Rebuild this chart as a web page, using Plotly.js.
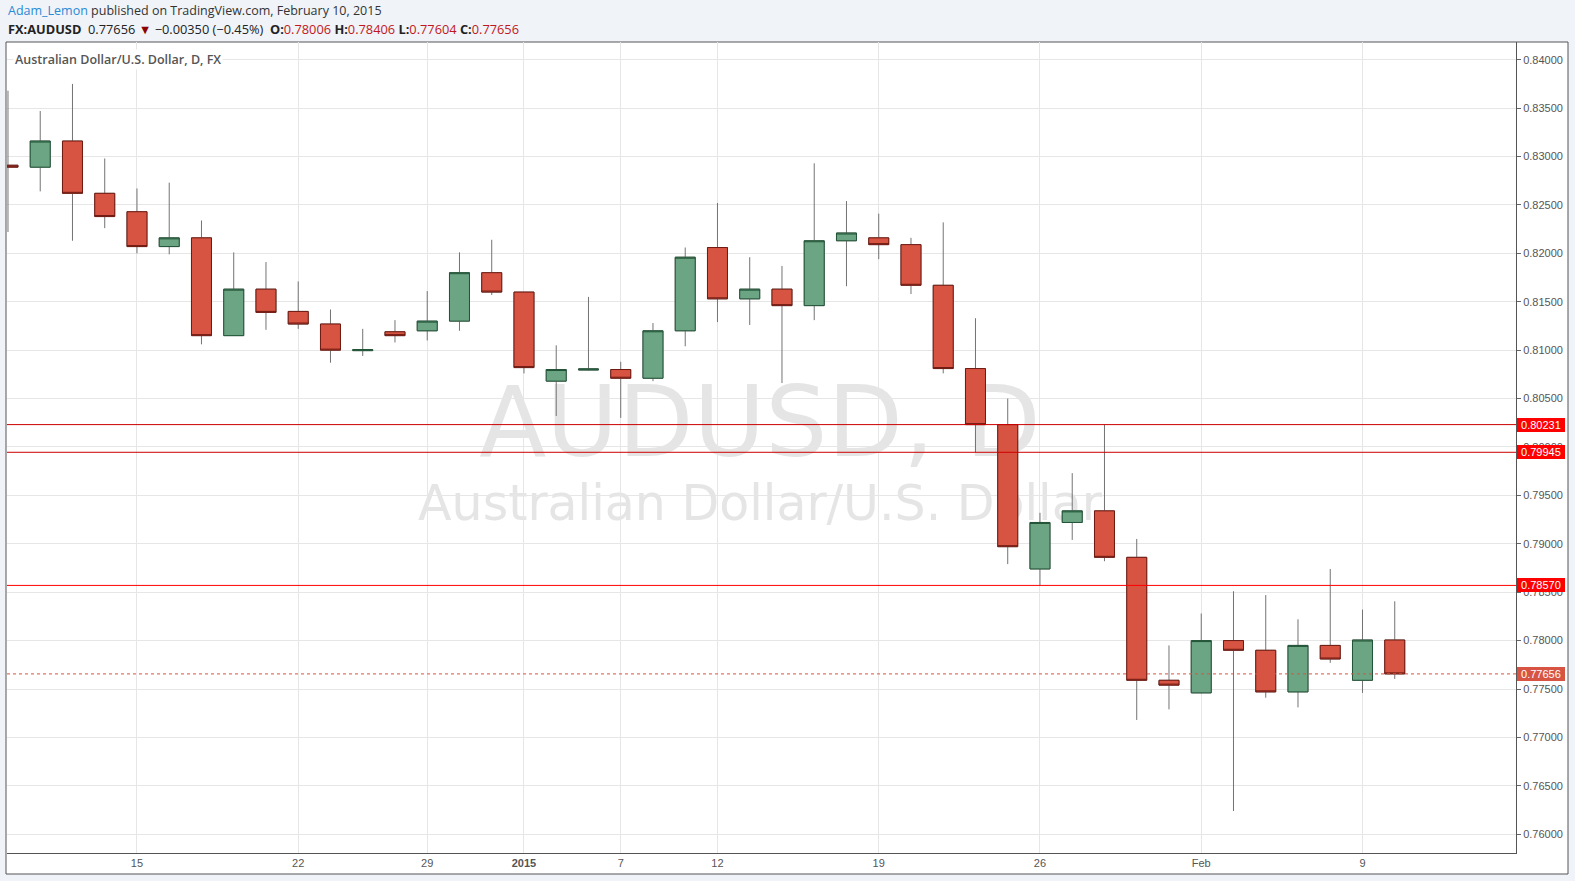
<!DOCTYPE html>
<html>
<head>
<meta charset="utf-8">
<script src="https://cdn.plot.ly/plotly-3.0.1.min.js"></script>
<style>
html,body{margin:0;padding:0;background:#f0f3f8;}
#chart{width:1575px;height:881px;}
</style>
</head>
<body>
<div id="chart"></div>
<script>
// ---- data ----
const dates = [
  '2014-12-09','2014-12-10','2014-12-11','2014-12-12','2014-12-15','2014-12-16','2014-12-17','2014-12-18','2014-12-19',
  '2014-12-22','2014-12-23','2014-12-24','2014-12-26','2014-12-29','2014-12-30','2014-12-31','2015-01-02',
  '2015-01-05','2015-01-06','2015-01-07','2015-01-08','2015-01-09','2015-01-12','2015-01-13','2015-01-14',
  '2015-01-15','2015-01-16','2015-01-19','2015-01-20','2015-01-21','2015-01-22','2015-01-23','2015-01-26',
  '2015-01-27','2015-01-28','2015-01-29','2015-01-30','2015-02-02','2015-02-03','2015-02-04','2015-02-05',
  '2015-02-06','2015-02-09','2015-02-10'
];
const openP = [
  0.8291,0.8289,0.8316,0.8262,0.8243,0.8207,0.8216,0.8115,0.8163,
  0.8140,0.8127,0.80995,0.8119,0.8120,0.8130,0.8180,0.8160,
  0.8068,0.80795,0.8080,0.8071,0.8120,0.8206,0.8153,0.8163,
  0.8146,0.8213,0.8216,0.8209,0.8167,0.8081,0.80231,0.7874,
  0.7922,0.7934,0.7886,0.7759,0.7746,0.7800,0.7790,0.7747,
  0.7795,0.7759,0.78006
];
const highP = [
  0.8368,0.8347,0.8375,0.8298,0.8267,0.8273,0.8234,0.8201,0.8191,
  0.8171,0.8142,0.8122,0.8131,0.8161,0.8201,0.8214,0.8160,
  0.8105,0.8155,0.8088,0.8128,0.8206,0.8252,0.8196,0.8187,
  0.8293,0.8254,0.8241,0.8216,0.8232,0.8133,0.8050,0.7932,
  0.7973,0.80231,0.7905,0.7795,0.7828,0.7851,0.7847,0.7822,
  0.7874,0.7832,0.78406
];
const lowP = [
  0.8222,0.8264,0.8213,0.8226,0.8200,0.8199,0.8106,0.8115,0.8121,
  0.8122,0.8087,0.8094,0.8108,0.8110,0.8120,0.8157,0.8076,
  0.8032,0.8079,0.8030,0.8068,0.8104,0.8129,0.8126,0.8066,
  0.8131,0.8166,0.8194,0.8158,0.8076,0.79945,0.7879,0.7857,
  0.7904,0.7882,0.7718,0.7729,0.77455,0.7624,0.7741,0.7731,
  0.7777,0.7746,0.77604
];
const closeP = [
  0.8289,0.8316,0.8262,0.8238,0.8207,0.8216,0.8115,0.8163,0.8139,
  0.8127,0.8100,0.81005,0.8115,0.8130,0.8180,0.8160,0.8082,
  0.8080,0.80805,0.8071,0.8120,0.8196,0.8153,0.8163,0.8146,
  0.8213,0.8221,0.8209,0.8167,0.8081,0.80231,0.7897,0.7922,
  0.7934,0.7886,0.7759,0.7754,0.7800,0.7790,0.7747,0.7795,
  0.7781,0.78006,0.77656
];
const tickDates = ['2014-12-15','2014-12-22','2014-12-29','2015-01-02','2015-01-07','2015-01-12','2015-01-19','2015-01-26','2015-02-02','2015-02-09'];
const tickLabels = ['15','22','29','<b>2015</b>','7','12','19','26','Feb','9'];
const levelValues = [0.80231, 0.79945, 0.78570];
const symbolName = 'FX:AUDUSD';
const longName = 'Australian Dollar/U.S. Dollar';
const author = 'Adam_Lemon';
const publishedText = 'published on TradingView.com, February 10, 2015';

// ---- styles ----
const levelColors = ['#cc0000', '#cc0000', '#ff0000'];
const upFill = '#6ba583', upLine = '#225437';
const dnFill = '#d75442', dnLine = '#6f1a12';
const wickColor = '#737373';

// plot box in pixels
const W = 1575, H = 881;
const L = 7, R = 1516, T = 42, B = 853;
const px = x => (x - L) / (R - L);
const py = y => (B - y) / (B - T);

const bodyHigh = openP.map((o, i) => Math.max(o, closeP[i]));
const bodyLow = openP.map((o, i) => Math.min(o, closeP[i]));

const wickTrace = {
  type: 'candlestick', x: dates, open: openP, high: highP, low: lowP, close: closeP,
  increasing: {line: {color: wickColor, width: 1}, fillcolor: 'rgba(0,0,0,0)'},
  decreasing: {line: {color: wickColor, width: 1}, fillcolor: 'rgba(0,0,0,0)'},
  whiskerwidth: 0, hoverinfo: 'skip', showlegend: false
};
const bodyTrace = {
  type: 'candlestick', x: dates, open: openP, high: bodyHigh, low: bodyLow, close: closeP,
  increasing: {line: {color: upLine, width: 1}, fillcolor: upFill},
  decreasing: {line: {color: dnLine, width: 1}, fillcolor: dnFill},
  whiskerwidth: 0, hoverinfo: 'skip', showlegend: false
};

const n = closeP.length;
const last = closeP[n - 1], prev = closeP[n - 2];
const chg = last - prev, pct = chg / prev * 100;
const fmt = v => (v < 0 ? '\u2212' : '') + Math.abs(v).toFixed(5);
const red = c => '<span style="color:#c0181b">' + c + '</span>';
const sp = '\u00a0';

const shapes = [
  // white chart frame
  {type: 'rect', xref: 'paper', yref: 'paper', x0: px(6), x1: px(1568), y0: py(874), y1: py(42),
   fillcolor: '#ffffff', line: {color: '#555555', width: 1}, layer: 'below'},
  // watermarks
  {type: 'rect', xref: 'paper', yref: 'paper', x0: px(300), x1: px(1220), y0: py(470), y1: py(360),
   fillcolor: 'rgba(0,0,0,0)', line: {width: 0}, layer: 'below',
   label: {text: symbolName.split(':')[1] + ', D', textposition: 'middle center',
     font: {family: 'DejaVu Sans', size: 98, color: '#e5e5e5'}}},
  {type: 'rect', xref: 'paper', yref: 'paper', x0: px(300), x1: px(1220), y0: py(527), y1: py(471),
   fillcolor: 'rgba(0,0,0,0)', line: {width: 0}, layer: 'below',
   label: {text: longName, textposition: 'middle center',
     font: {family: 'DejaVu Sans', size: 49, color: '#e5e5e5'}}}
];
levelValues.forEach((v, i) => {
  shapes.push({type: 'line', xref: 'paper', yref: 'y', x0: 0, x1: 1, y0: v, y1: v,
    line: {color: levelColors[i], width: 1}});
});
shapes.push({type: 'line', xref: 'paper', yref: 'y', x0: 0, x1: 1, y0: last, y1: last,
  line: {color: dnFill, width: 1, dash: 'dot'}});

const annotations = [
  {xref: 'paper', yref: 'paper', x: px(6), y: py(11), xanchor: 'left', yanchor: 'middle', showarrow: false,
   text: '<span style="color:#2a8ad4">' + author + '</span> ' + publishedText,
   font: {family: 'Open Sans', size: 12.5, color: '#333333'}},
  {xref: 'paper', yref: 'paper', x: px(6), y: py(29), xanchor: 'left', yanchor: 'middle', showarrow: false,
   text: '<b>' + symbolName + '</b>' + sp + ' ' + last.toFixed(5) + ' <span style="color:#8b0000">\u25BC</span> ' +
     fmt(chg) + ' (' + (pct < 0 ? '\u2212' : '') + Math.abs(pct).toFixed(2) + '%)' + sp + ' ' +
     '<b>O:</b>' + red(openP[n - 1].toFixed(5)) + ' <b>H:</b>' + red(highP[n - 1].toFixed(5)) +
     ' <b>L:</b>' + red(lowP[n - 1].toFixed(5)) + ' <b>C:</b>' + red(closeP[n - 1].toFixed(5)),
   font: {family: 'Open Sans', size: 12.8, color: '#222222'}},
  {xref: 'paper', yref: 'paper', x: px(13), y: py(60), xanchor: 'left', yanchor: 'middle', showarrow: false,
   text: longName + ', D, FX', bgcolor: '#ffffff', borderpad: 1,
   font: {family: 'Open Sans', size: 12.5, color: '#555555', weight: 600}}
];
levelValues.forEach((v, i) => {
  annotations.push({xref: 'paper', yref: 'y', x: 1, y: v, xanchor: 'left', yanchor: 'middle', xshift: 1,
    showarrow: false, text: sp + v.toFixed(5) + sp, bgcolor: '#ff0000', borderpad: 1, borderwidth: 0,
    font: {family: 'Liberation Sans', size: 11, color: '#ffffff'}});
});
annotations.push({xref: 'paper', yref: 'y', x: 1, y: last, xanchor: 'left', yanchor: 'middle', xshift: 1,
  showarrow: false, text: sp + last.toFixed(5) + sp, bgcolor: dnFill, borderpad: 1, borderwidth: 0,
  font: {family: 'Liberation Sans', size: 11, color: '#ffffff'}});

const layout = {
  width: W, height: H,
  margin: {l: L, r: W - R, t: T, b: H - B, pad: 0},
  paper_bgcolor: '#f0f3f8', plot_bgcolor: '#ffffff',
  boxgap: 0.38, boxgroupgap: 0, boxmode: 'overlay',
  showlegend: false,
  font: {family: 'Liberation Sans', size: 11, color: '#555555'},
  xaxis: {
    type: 'category', range: [-0.03, 46.76], rangeslider: {visible: false},
    tickmode: 'array', tickvals: tickDates, ticktext: tickLabels,
    showgrid: true, gridcolor: '#e6e6e6', gridwidth: 1,
    showline: true, linecolor: '#555555', linewidth: 1, ticks: '',
    tickfont: {family: 'Liberation Sans', size: 11, color: '#555555'}, fixedrange: true
  },
  yaxis: {
    side: 'right', range: [0.75806, 0.84183], dtick: 0.005, tick0: 0.76, tickformat: '.5f',
    showgrid: true, gridcolor: '#e6e6e6', gridwidth: 1, zeroline: false,
    showline: true, linecolor: '#555555', linewidth: 1,
    ticks: 'outside', ticklen: 4, tickcolor: '#666666',
    tickfont: {family: 'Liberation Sans', size: 11, color: '#555555'}, fixedrange: true
  },
  shapes: shapes,
  annotations: annotations
};

Plotly.newPlot('chart', [wickTrace, bodyTrace], layout, {displayModeBar: false, staticPlot: true});
</script>
</body>
</html>
